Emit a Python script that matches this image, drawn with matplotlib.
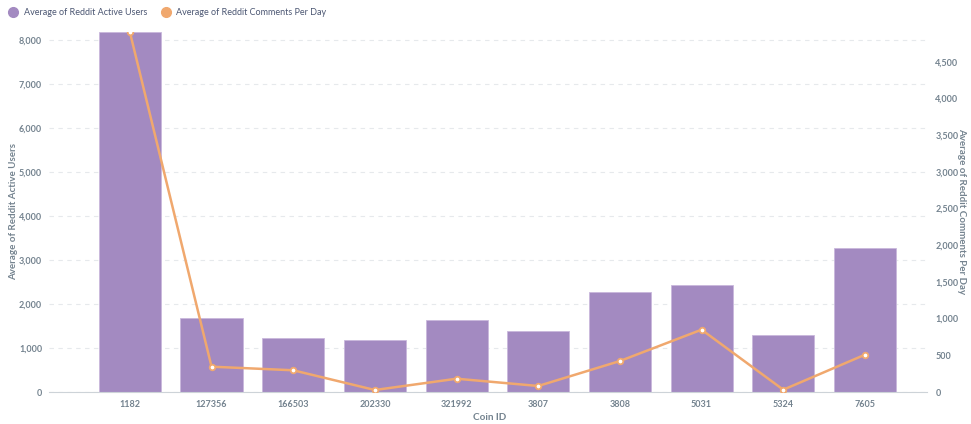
import numpy as np
import matplotlib.pyplot as plt
from matplotlib.lines import Line2D

plt.rcParams['font.family'] = ['Lato', 'DejaVu Sans']

coin_ids = ["1182", "127356", "166503", "202330", "321992", "3807", "3808", "5031", "5324", "7605"]
active_users = [8180, 1680, 1230, 1180, 1640, 1390, 2270, 2430, 1295, 3270]
comments_per_day = [4905, 345, 296, 27, 181, 82, 422, 849, 31, 508]

bar_color = "#a38ac1"
line_color = "#f0a86e"
text_color = "#74838f"

W, H = 971, 424
fig = plt.figure(figsize=(W/100, H/100), dpi=100)
ax = fig.add_axes([49/W, 1-392/H, (927-49)/W, (392-32)/H])
ax2 = ax.twinx()

x = np.arange(len(coin_ids))
ax.bar(x, active_users, width=0.76, color=bar_color, edgecolor="#c9b8dc", linewidth=0.6, zorder=2)
ax2.plot(x, comments_per_day, color=line_color, linewidth=1.8, marker="o", markersize=4,
         markerfacecolor="white", markeredgecolor=line_color, markeredgewidth=1.3, zorder=3)

ax.set_xlim(-0.99, 9.76)
ax.set_ylim(0, 8180)
ax2.set_ylim(0, 4905)

ax.set_yticks(range(0, 8001, 1000))
ax.set_yticklabels([f"{v:,}" for v in range(0, 8001, 1000)])
ax2.set_yticks(range(0, 4501, 500))
ax2.set_yticklabels([f"{v:,}" for v in range(0, 4501, 500)])
ax.set_xticks(x)
ax.set_xticklabels(coin_ids)

ax.grid(axis="y", color="#e6e9ec", linestyle=(0, (4, 4)), linewidth=0.8, zorder=0)
ax.set_axisbelow(True)

for a in (ax, ax2):
    for s in a.spines.values():
        s.set_visible(False)
    a.tick_params(axis="y", length=0, labelsize=6.5, labelcolor=text_color, pad=5)
ax2.tick_params(axis="y", pad=6)
ax.spines["bottom"].set_visible(True)
ax.spines["bottom"].set_color("#cdd3d8")
ax.tick_params(axis="x", length=0, labelsize=6.5, labelcolor=text_color, pad=6)
for lbl in ax.get_xticklabels() + ax.get_yticklabels() + ax2.get_yticklabels():
    lbl.set_fontweight("bold")

fig.text(490/W, 1-417/H, "Coin ID", fontsize=7.2, fontweight="bold", color=text_color,
         ha="center", va="center")
fig.text(14/W, 1-212/H, "Average of Reddit Active Users", fontsize=7, fontweight="bold",
         color=text_color, rotation=90, ha="center", va="center")
fig.text(962/W, 1-211/H, "Average of Reddit Comments Per Day", fontsize=7, fontweight="bold",
         color=text_color, rotation=-90, ha="center", va="center")

handles = [Line2D([], [], linestyle="", marker="o", markersize=7, color=bar_color),
           Line2D([], [], linestyle="", marker="o", markersize=7, color=line_color)]
fig.legend(handles, ["Average of Reddit Active Users", "Average of Reddit Comments Per Day"],
           loc="upper left", bbox_to_anchor=(-0.004, 1.0), ncol=2, frameon=False,
           fontsize=6.5, labelcolor="#4c5773", handletextpad=0.2, columnspacing=1.0)

fig.savefig("out.png", dpi=100)
